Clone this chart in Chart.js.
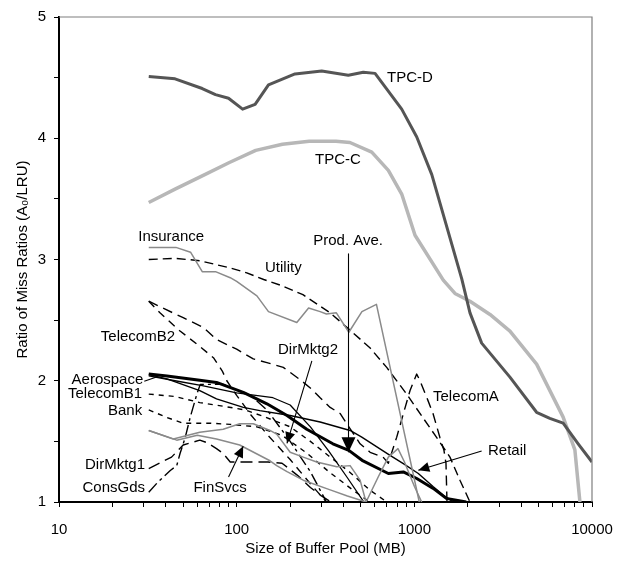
<!DOCTYPE html>
<html><head><meta charset="utf-8">
<script src="https://cdn.jsdelivr.net/npm/chart.js@4.4.1/dist/chart.umd.min.js"></script>
<style>html,body{margin:0;padding:0;background:#fff}#wrap{width:628px;height:561px}</style>
</head><body><div id="wrap"><canvas id="c" width="628" height="561"></canvas></div>
<script>
// ---------- data (buffer size in MB, ratio of miss ratios) ----------
const xTickLabels = [10, 100, 1000, 10000];
const yTickLabels = [1, 2, 3, 4, 5];

const tpcdX = [32, 45, 64, 76, 90, 108, 127, 151, 213, 301, 425, 516, 601, 849, 1032, 1254, 1849, 2057, 2393, 3452, 4877, 5790, 6880, 8360, 10000];
const tpcdY = [4.51, 4.49, 4.41, 4.36, 4.33, 4.24, 4.28, 4.44, 4.53, 4.555, 4.52, 4.545, 4.535, 4.24, 4.01, 3.70, 2.84, 2.56, 2.31, 2.03, 1.74, 1.69, 1.65, 1.48, 1.33];

const tpccX = [32, 45, 64, 91, 128, 181, 256, 362, 434, 576, 714, 849, 1009, 1455, 1693, 2057, 2665, 3452, 4877, 6880, 8010, 8550];
const tpccY = [3.47, 3.58, 3.69, 3.80, 3.90, 3.95, 3.975, 3.975, 3.965, 3.885, 3.735, 3.54, 3.20, 2.83, 2.72, 2.656, 2.547, 2.41, 2.137, 1.70, 1.43, 1.0];

const insuranceX = [32, 45.5, 55, 64, 76, 92, 100, 130, 151, 218, 254, 295, 320, 364, 428, 507, 612, 1066];
const insuranceY = [3.10, 3.10, 3.06, 2.90, 2.90, 2.85, 2.82, 2.70, 2.57, 2.48, 2.60, 2.57, 2.55, 2.56, 2.40, 2.57, 2.63, 1.0];

const utilityX = [32, 45, 62, 92, 114, 142, 175, 236, 336, 425, 564, 699, 905, 1112, 1331, 1587, 1806, 2057];
const utilityY = [3.0, 3.01, 2.99, 2.93, 2.89, 2.835, 2.79, 2.71, 2.56, 2.43, 2.27, 2.11, 1.89, 1.70, 1.535, 1.37, 1.18, 1.0];

const prodAveX = [32, 40.5, 62, 77, 109, 148, 192, 248, 348, 428, 508, 714, 867, 1032, 1277, 1514, 1960];
const prodAveY = [2.055, 2.04, 2.005, 1.986, 1.904, 1.81, 1.713, 1.60, 1.48, 1.426, 1.344, 1.235, 1.248, 1.194, 1.112, 1.03, 1.0];

const retailX = [32, 40.5, 62, 77, 109, 135, 200, 295, 435, 506, 730, 867, 1053, 1279, 1455, 1656];
const retailY = [2.05, 2.015, 1.918, 1.85, 1.78, 1.754, 1.713, 1.66, 1.59, 1.535, 1.385, 1.317, 1.235, 1.125, 1.057, 1.0];

const aerospaceX = [32, 45, 64, 100, 128, 160, 200, 260, 330, 420, 520];
const aerospaceY = [2.04, 2.0, 1.96, 1.90, 1.88, 1.86, 1.80, 1.62, 1.42, 1.20, 1.0];

const telecomAX = [32, 39.6, 50, 65, 77, 100, 124, 148, 183, 227, 265, 295, 336, 382, 495, 564, 667, 714, 796, 868, 946, 1031, 1076, 1194, 1274, 1394, 1468, 1507, 1527];
const telecomAY = [2.656, 2.59, 2.52, 2.44, 2.34, 2.26, 2.18, 2.15, 2.11, 2.01, 1.93, 1.86, 1.78, 1.73, 1.48, 1.41, 1.37, 1.32, 1.535, 1.73, 1.92, 2.055, 2.0, 1.836, 1.73, 1.53, 1.426, 1.32, 1.0];

const telecomB2X = [32, 37, 48, 60, 74, 83, 88, 100, 120, 150, 200, 260, 320];
const telecomB2Y = [2.656, 2.56, 2.41, 2.30, 2.19, 2.08, 2.0, 1.88, 1.72, 1.55, 1.35, 1.15, 1.0];

const telecomB1X = [32, 45, 62, 84, 111, 139, 200, 260, 330, 430, 560, 700];
const telecomB1Y = [1.89, 1.87, 1.82, 1.79, 1.76, 1.71, 1.62, 1.50, 1.38, 1.25, 1.10, 1.0];

const bankX = [32, 40, 50, 71, 92, 130, 180, 250, 330, 450, 560];
const bankY = [1.76, 1.70, 1.65, 1.65, 1.64, 1.62, 1.55, 1.40, 1.25, 1.10, 1.0];

const dirMktg2X = [32, 44, 62, 84, 104, 124, 154, 168, 200, 237, 282, 366, 435, 495, 535, 628, 714, 809, 880, 1000, 1100];
const dirMktg2Y = [1.59, 1.52, 1.576, 1.60, 1.645, 1.645, 1.59, 1.56, 1.41, 1.37, 1.33, 1.29, 1.30, 1.18, 1.0, 1.21, 1.37, 1.44, 1.33, 1.13, 1.0];

const finSvcsX = [32, 46, 60, 77, 104, 154, 168, 192, 237, 336, 420, 535];
const finSvcsY = [1.59, 1.51, 1.55, 1.52, 1.47, 1.34, 1.30, 1.25, 1.18, 1.10, 1.05, 1.0];

const dirMktg1X = [32, 43, 50, 62, 68, 77, 84, 92, 120, 150, 180, 220, 260, 300, 340];
const dirMktg1Y = [1.276, 1.37, 1.47, 1.51, 1.49, 1.44, 1.40, 1.33, 1.33, 1.33, 1.32, 1.22, 1.12, 1.05, 1.0];

const consGdsX = [32, 35.6, 42.3, 46, 48, 51.3, 54.8, 59.7, 62.4, 84, 92, 120, 150, 200, 260, 320];
const consGdsY = [1.08, 1.156, 1.26, 1.30, 1.40, 1.53, 1.70, 1.89, 1.97, 1.97, 1.945, 1.88, 1.75, 1.5, 1.25, 1.0];

// ---------- build ----------
function pts(xs, ys) { return xs.map((x, i) => ({x: x, y: ys[i]})); }
const GRAY = '#8a8a8a';
const datasets = [
  {label: 'TPC-D', data: pts(tpcdX, tpcdY), borderColor: '#555555', borderWidth: 3},
  {label: 'TPC-C', data: pts(tpccX, tpccY), borderColor: '#b7b7b7', borderWidth: 3.5},
  {label: 'Insurance', data: pts(insuranceX, insuranceY), borderColor: GRAY, borderWidth: 1.5},
  {label: 'DirMktg2', data: pts(dirMktg2X, dirMktg2Y), borderColor: GRAY, borderWidth: 1.5},
  {label: 'FinSvcs', data: pts(finSvcsX, finSvcsY), borderColor: GRAY, borderWidth: 1.5},
  {label: 'Utility', data: pts(utilityX, utilityY), borderColor: '#000', borderWidth: 1.4, borderDash: [9, 5]},
  {label: 'TelecomA', data: pts(telecomAX, telecomAY), borderColor: '#000', borderWidth: 1.4, borderDash: [10, 6]},
  {label: 'TelecomB2', data: pts(telecomB2X, telecomB2Y), borderColor: '#000', borderWidth: 1.4, borderDash: [8, 6]},
  {label: 'TelecomB1', data: pts(telecomB1X, telecomB1Y), borderColor: '#000', borderWidth: 1.4, borderDash: [5, 5]},
  {label: 'Bank', data: pts(bankX, bankY), borderColor: '#000', borderWidth: 1.4, borderDash: [5, 5]},
  {label: 'DirMktg1', data: pts(dirMktg1X, dirMktg1Y), borderColor: '#000', borderWidth: 1.4, borderDash: [12, 6]},
  {label: 'ConsGds', data: pts(consGdsX, consGdsY), borderColor: '#000', borderWidth: 1.4, borderDash: [12, 4, 3, 4]},
  {label: 'Aerospace', data: pts(aerospaceX, aerospaceY), borderColor: '#000', borderWidth: 1.3},
  {label: 'Retail', data: pts(retailX, retailY), borderColor: '#000', borderWidth: 1.4},
  {label: 'Prod. Ave.', data: pts(prodAveX, prodAveY), borderColor: '#000', borderWidth: 3}
];
datasets.forEach(d => { d.pointRadius = 0; d.tension = 0; d.fill = false; d.borderJoinStyle = 'round'; });

// text annotations, anchored in data units
const notes = [
  {t: 'TPC-D', x: 702, y: 4.50, a: 'left'},
  {t: 'TPC-C', x: 276, y: 3.82, a: 'left'},
  {t: 'Prod. Ave.', x: 424, y: 3.15, a: 'center'},
  {t: 'Insurance', x: 42.8, y: 3.19, a: 'center'},
  {t: 'Utility', x: 183, y: 2.93, a: 'center'},
  {t: 'TelecomB2', x: 45, y: 2.36, a: 'right'},
  {t: 'DirMktg2', x: 252, y: 2.255, a: 'center'},
  {t: 'Aerospace', x: 29.8, y: 2.01, a: 'right'},
  {t: 'TelecomB1', x: 29.4, y: 1.893, a: 'right'},
  {t: 'Bank', x: 29.4, y: 1.754, a: 'right'},
  {t: 'DirMktg1', x: 30.5, y: 1.303, a: 'right'},
  {t: 'ConsGds', x: 30.5, y: 1.115, a: 'right'},
  {t: 'FinSvcs', x: 80.7, y: 1.115, a: 'center'},
  {t: 'TelecomA', x: 1274, y: 1.87, a: 'left'},
  {t: 'Retail', x: 2597, y: 1.418, a: 'left'}
];
// pointer lines: from (x1,y1) to (x2,y2); head = arrowhead at end
const pointers = [
  {x1: 424, y1: 3.05, x2: 424, y2: 1.41, head: 15, w: 7},
  {x1: 265, y1: 2.164, x2: 192, y2: 1.484, head: 11, w: 5},
  {x1: 90, y1: 1.207, x2: 108.8, y2: 1.459, head: 11, w: 5},
  {x1: 2393, y1: 1.42, x2: 1053, y2: 1.262, head: 11, w: 5},
  {x1: 30.2, y1: 1.995, x2: 35.7, y2: 2.033, head: 0, w: 0}
];

const FONT = "'Liberation Sans', Arial, sans-serif";

const deco = {
  id: 'deco',
  afterDatasetsDraw(chart) {
    const ctx = chart.ctx, xs = chart.scales.x, ys = chart.scales.y, ca = chart.chartArea;
    ctx.save();
    // top and right frame lines
    ctx.strokeStyle = '#7f7f7f'; ctx.lineWidth = 1.2;
    ctx.beginPath();
    ctx.moveTo(ca.left, ca.top); ctx.lineTo(ca.right, ca.top); ctx.lineTo(ca.right, ca.bottom);
    ctx.stroke();
    // pointers
    ctx.strokeStyle = '#000'; ctx.fillStyle = '#000'; ctx.lineWidth = 1.1;
    pointers.forEach(p => {
      let x1 = xs.getPixelForValue(p.x1), y1 = ys.getPixelForValue(p.y1);
      let x2 = xs.getPixelForValue(p.x2), y2 = ys.getPixelForValue(p.y2);
      if (Math.abs(x1 - x2) < 0.01) { x1 = x2 = Math.round(x1) + 0.5; }
      ctx.beginPath(); ctx.moveTo(x1, y1); ctx.lineTo(x2, y2); ctx.stroke();
      if (p.head > 0) {
        const ang = Math.atan2(y2 - y1, x2 - x1);
        const bx = x2 - p.head * Math.cos(ang), by = y2 - p.head * Math.sin(ang);
        const nx = -Math.sin(ang) * p.w, ny = Math.cos(ang) * p.w;
        ctx.beginPath(); ctx.moveTo(x2, y2); ctx.lineTo(bx + nx, by + ny); ctx.lineTo(bx - nx, by - ny); ctx.closePath(); ctx.fill();
      }
    });
    // labels
    ctx.font = '15px ' + FONT; ctx.fillStyle = '#000'; ctx.textBaseline = 'middle';
    notes.forEach(n => {
      ctx.textAlign = n.a;
      ctx.fillText(n.t, xs.getPixelForValue(n.x), ys.getPixelForValue(n.y));
    });
    ctx.restore();
  }
};

new Chart(document.getElementById('c'), {
  type: 'line',
  data: {datasets: datasets},
  options: {
    responsive: false, animation: false, devicePixelRatio: 1,
    layout: {padding: {top: 14, right: 36, left: 0, bottom: 0}},
    plugins: {legend: {display: false}, tooltip: {enabled: false}},
    scales: {
      x: {
        type: 'logarithmic', min: 10, max: 10000,
        afterFit(s) { s.height = 59; },
        afterBuildTicks(s) {
          const t = [];
          for (let d = 10; d < 10000; d *= 10) for (let k = 1; k < 10; k++) t.push({value: d * k});
          t.push({value: 10000});
          s.ticks = t;
        },
        ticks: {autoSkip: false, maxRotation: 0, padding: 14, color: '#000', font: {family: FONT, size: 15},
          callback(v) { return xTickLabels.includes(v) ? String(v) : ''; }},
        grid: {drawOnChartArea: false, drawTicks: true, tickLength: 5, color: '#000', lineWidth: 1},
        border: {color: '#000', width: 2},
        title: {display: true, text: 'Size of Buffer Pool (MB)', color: '#000', font: {family: FONT, size: 15}, padding: {top: 0, bottom: 3}}
      },
      y: {
        type: 'linear', min: 1, max: 5,
        afterFit(s) { s.width = 59; },
        ticks: {stepSize: 0.5, autoSkip: false, padding: 8, color: '#000', font: {family: FONT, size: 15},
          callback(v) { return yTickLabels.includes(v) ? String(v) : ''; }},
        grid: {drawOnChartArea: false, drawTicks: true, tickLength: 5, color: '#000', lineWidth: 1},
        border: {color: '#000', width: 2},
        title: {display: true, text: 'Ratio of Miss Ratios (A\u2080/LRU)', color: '#000', font: {family: FONT, size: 15}, padding: {top: 14, bottom: 0}}
      }
    }
  },
  plugins: [deco]
});
</script></body></html>
